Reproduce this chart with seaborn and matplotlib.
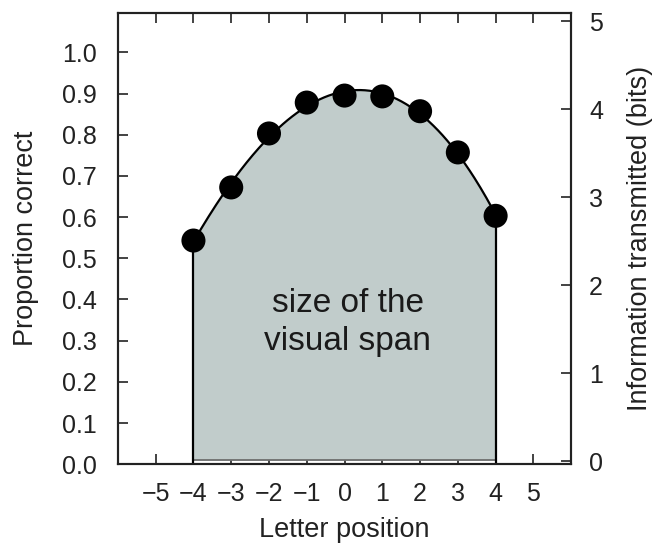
import numpy as np
import pandas as pd
import matplotlib
matplotlib.use('Agg')
import matplotlib.pyplot as plt
import seaborn as sns

# data
letter_pos = [-4, -3, -2, -1, 0, 1, 2, 3, 4]
prop_correct = [0.543, 0.672, 0.803, 0.878, 0.895, 0.893, 0.857, 0.757, 0.603]
x_ticks = [-5, -4, -3, -2, -1, 0, 1, 2, 3, 4, 5]
y_ticks = [0.0, 0.1, 0.2, 0.3, 0.4, 0.5, 0.6, 0.7, 0.8, 0.9, 1.0]
bits_ticks = [0, 1, 2, 3, 4, 5]

points_df = pd.DataFrame({'pos': letter_pos, 'prop': prop_correct})

# smooth fitted curve through the points (cubic least squares)
coefs = np.polyfit(letter_pos, prop_correct, 3)
xs = np.linspace(letter_pos[0], letter_pos[-1], 200)
curve_df = pd.DataFrame({'pos': xs, 'prop': np.polyval(coefs, xs)})

sns.set_style('ticks')
plt.rcParams['font.family'] = ['Liberation Sans', 'DejaVu Sans']

fig = plt.figure(figsize=(6.55, 5.5), dpi=100)
ax = fig.add_axes([0.180, 0.156, 0.692, 0.820])
ax.set_axisbelow(True)

fill_col = '#c1cccb'
ax.fill_between(curve_df['pos'], 0.01, curve_df['prop'], color=fill_col, lw=0, zorder=1)
ax.hlines(0.01, letter_pos[0], letter_pos[-1], color='#666666', lw=1.2, zorder=2)
ax.vlines([letter_pos[0], letter_pos[-1]], 0, [curve_df['prop'].iloc[0], curve_df['prop'].iloc[-1]],
          color='black', lw=1.6, zorder=3)

sns.lineplot(data=curve_df, x='pos', y='prop', color='black', lw=1.6, ax=ax, zorder=3)
sns.scatterplot(data=points_df, x='pos', y='prop', color='black', s=300, edgecolor='none', ax=ax, zorder=4)

ax.text(0.08, 0.345, 'size of the\nvisual span', ha='center', va='center', fontsize=24,
        color='#1a1a1a', linespacing=1.3)

ax.set_xlim(-6, 6)
ax.set_ylim(0, 1.095)
ax.set_xticks(x_ticks)
ax.set_xticklabels([str(t).replace('-', '\u2212') for t in x_ticks])
ax.set_yticks(y_ticks)
ax.set_yticklabels([f'{t:.1f}' for t in y_ticks])
ax.set_xlabel('Letter position', fontsize=19.5, color='#222222', labelpad=8)
ax.set_ylabel('Proportion correct', fontsize=19.5, color='#222222', labelpad=17)
ax.tick_params(axis='both', direction='in', length=7, width=1.2, labelsize=18,
               colors='#222222', pad=15)
ax.tick_params(axis='x', top=True)
ax.tick_params(axis='x', pad=13)

ax2 = ax.twinx()
ax2.set_ylim(-0.034, 5.09)
ax2.set_yticks(bits_ticks)
ax2.set_ylabel('Information transmitted (bits)', fontsize=19.5, color='#222222', labelpad=17)
ax2.tick_params(axis='y', direction='in', length=7, width=1.2, labelsize=18,
                colors='#222222', pad=13)

for a in (ax, ax2):
    for s in a.spines.values():
        s.set_visible(True)
        s.set_linewidth(1.5)
        s.set_color('#222222')

fig.savefig('out.png', dpi=100)
